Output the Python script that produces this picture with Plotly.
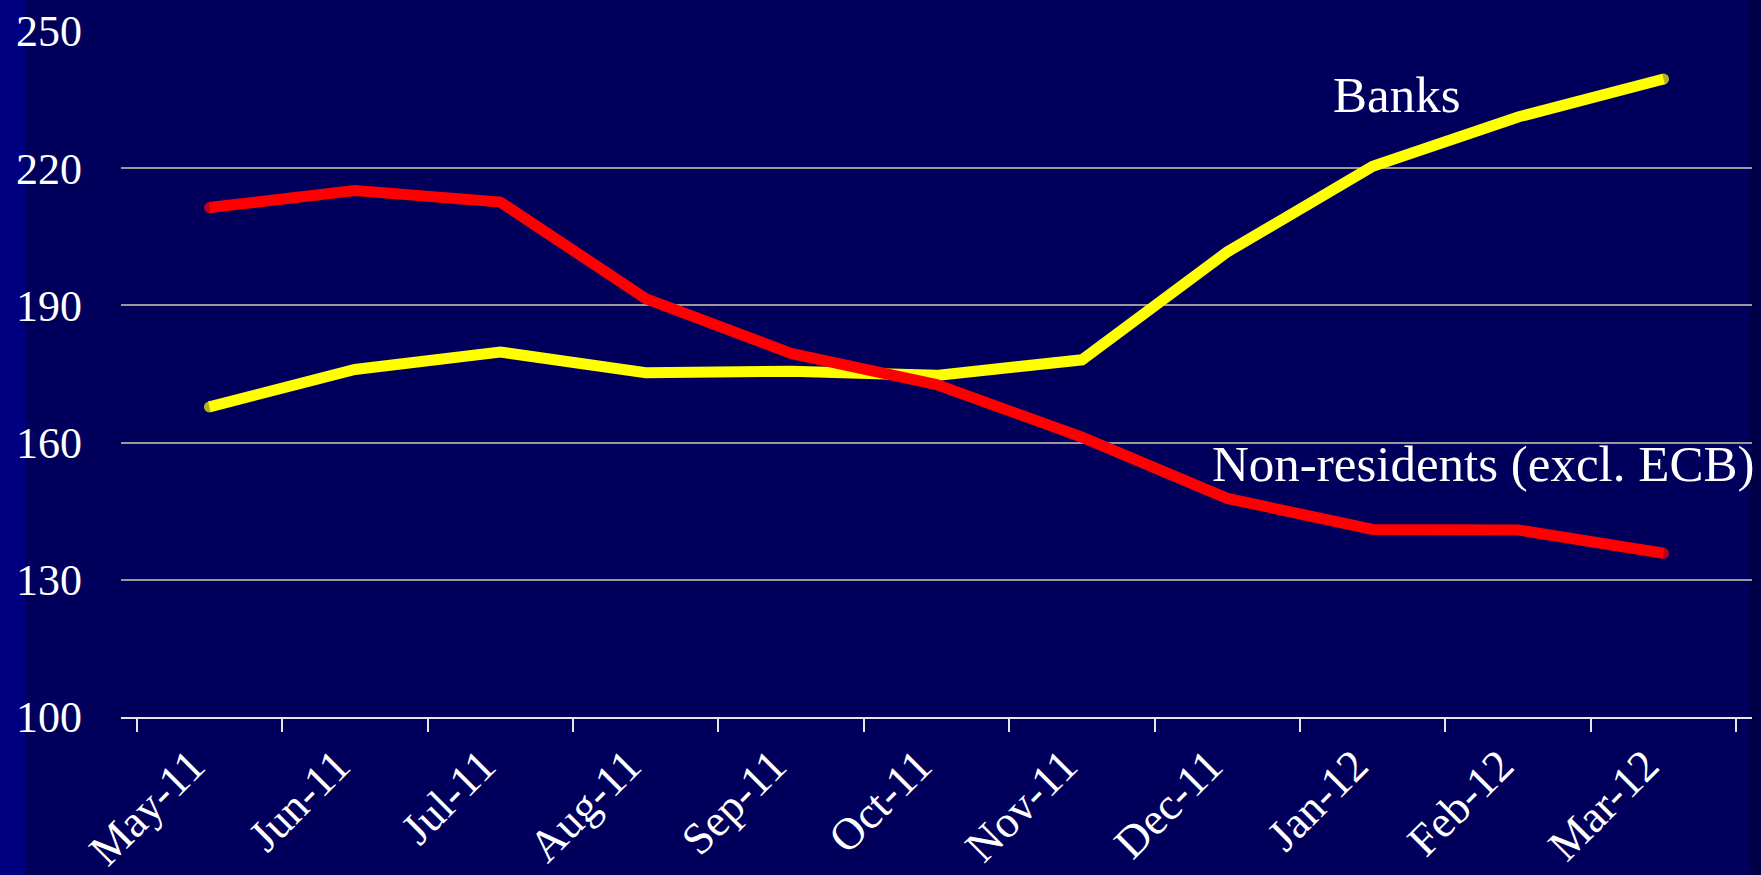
import plotly.graph_objects as go

# Monthly holdings (EUR bn) by investor group
months = ["May-11", "Jun-11", "Jul-11", "Aug-11", "Sep-11", "Oct-11",
          "Nov-11", "Dec-11", "Jan-12", "Feb-12", "Mar-12"]
banks = [167.8, 176.0, 179.8, 175.3, 175.6, 174.7, 178.1, 201.7, 220.4, 231.2, 239.5]
non_residents = [211.4, 215.1, 212.6, 191.5, 179.5, 172.7, 161.2, 147.8, 141.0, 140.9, 135.8]

y_ticks = [100, 130, 160, 190, 220, 250]

BG = "#00005c"
FONT = "Liberation Serif"
LINE_W = 11


def end_caps(n, size):
    # round ends for the thick lines: markers only at first and last point
    return [size] + [0] * (n - 2) + [size]


fig = go.Figure()

fig.add_trace(go.Scatter(
    x=months, y=banks, mode="lines+markers", name="Banks",
    line=dict(color="#ffff00", width=LINE_W),
    marker=dict(color="#ffff00", size=end_caps(len(months), LINE_W), line=dict(width=0)),
))
fig.add_trace(go.Scatter(
    x=months, y=non_residents, mode="lines+markers", name="Non-residents (excl. ECB)",
    line=dict(color="#ff0000", width=LINE_W),
    marker=dict(color="#ff0000", size=end_caps(len(months), LINE_W), line=dict(width=0)),
))

fig.add_annotation(
    x="Jan-12", y=236, text="Banks", showarrow=False,
    xanchor="center", yanchor="middle", xshift=24,
    font=dict(family=FONT, size=51, color="white"),
)
fig.add_annotation(
    x=1.0, xref="paper", y=155.4, text="Non-residents (excl. ECB)", showarrow=False,
    xanchor="right", yanchor="middle", xshift=4,
    font=dict(family=FONT, size=51, color="white"),
)

# side strips of the slide background
fig.add_shape(type="rect", xref="paper", yref="paper",
              x0=-0.08, x1=-0.0589, y0=-0.3, y1=1.1,
              fillcolor="#000080", line=dict(width=0), layer="below")
fig.add_shape(type="rect", xref="paper", yref="paper",
              x0=0.9988, x1=1.02, y0=-0.3, y1=1.1,
              fillcolor="#000048", line=dict(width=0), layer="below")

fig.update_layout(
    width=1761, height=875,
    margin=dict(l=121, r=9, t=31, b=158, autoexpand=False),
    paper_bgcolor=BG, plot_bgcolor=BG,
    showlegend=False,
    font=dict(family=FONT, color="white", size=44),
)

fig.update_xaxes(
    type="category", categoryorder="array", categoryarray=months,
    tickson="boundaries", ticks="outside", ticklen=13, tickwidth=2,
    tickcolor="#e6e6e6", showline=True, linecolor="#e6e6e6", linewidth=2,
    showgrid=False, zeroline=False, tickangle=-45, automargin=False,
    tickfont=dict(family=FONT, size=45, color="white"),
    ticklabelstandoff=2, ticklabelshift=-18,
)
fig.update_yaxes(
    range=[100, 250], tickvals=y_ticks, ticks="", showline=False,
    showgrid=True, gridcolor="#9a9a9a", gridwidth=2, zeroline=False,
    automargin=False,
    tickfont=dict(family=FONT, size=44, color="white"),
    ticklabelstandoff=38,
)

fig.write_html("out.html")
